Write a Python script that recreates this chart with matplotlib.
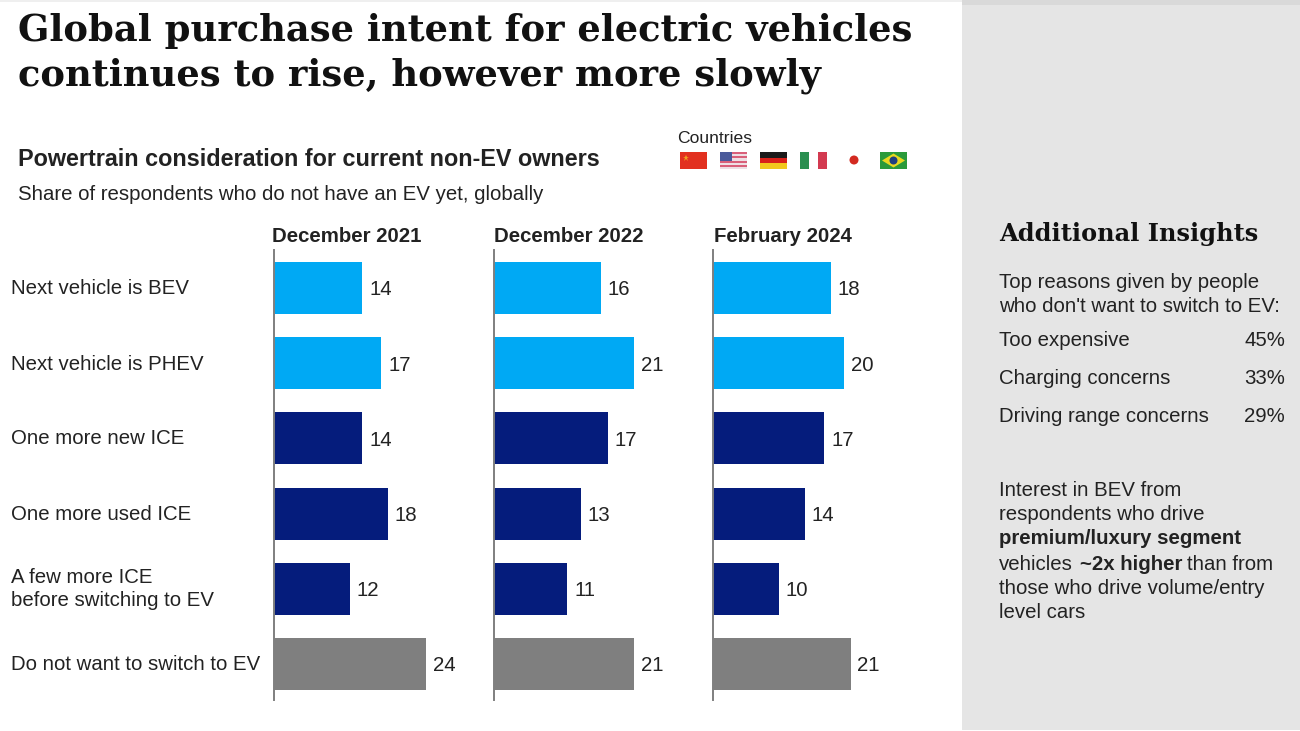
import matplotlib
matplotlib.use('Agg')
from matplotlib import pyplot as plt
from matplotlib.patches import Circle, Polygon, Rectangle
import numpy as np

categories = ['Next vehicle is BEV', 'Next vehicle is PHEV', 'One more new ICE',
              'One more used ICE', 'A few more ICE\nbefore switching to EV',
              'Do not want to switch to EV']
periods = ['December 2021', 'December 2022', 'February 2024']
values_2021 = [14, 17, 14, 18, 12, 24]
values_2022 = [16, 21, 17, 13, 11, 21]
values_2024 = [18, 20, 17, 14, 10, 21]

reasons = ['Too expensive', 'Charging concerns', 'Driving range concerns']
reason_shares = ['45%', '33%', '29%']

LIGHT_BLUE = '#00a9f4'
DARK_BLUE = '#051c7c'
GREY = '#7f7f7f'
bar_colors = [LIGHT_BLUE, LIGHT_BLUE, DARK_BLUE, DARK_BLUE, DARK_BLUE, GREY]

W, H = 1300, 731
SANS = 'Liberation Sans'
SERIF = 'DejaVu Serif'
TEXT = '#222222'
BODY = 14.7

plt.rcParams['font.family'] = SANS

fig = plt.figure(figsize=(W / 100, H / 100), dpi=100, facecolor='white')

# overlay in pixel coordinates for text and flags
bg = fig.add_axes([0, 0, 1, 1])
bg.set_xlim(0, W)
bg.set_ylim(H, 0)
bg.axis('off')


def put(x, y, s, size=BODY, **kw):
    kw.setdefault('color', TEXT)
    kw.setdefault('va', 'center_baseline')
    return bg.text(x, y - 1, s, fontsize=size, **kw)


# sidebar
bg.add_patch(Rectangle((962, 0), 338, 730, color='#e5e5e5', lw=0))
bg.add_patch(Rectangle((962, 0), 338, 5, color='#d9d9d9', lw=0))
bg.add_patch(Rectangle((0, 0), 962, 2, color='#efefef', lw=0))

# title
put(18, 28, 'Global purchase intent for electric vehicles', size=26.6, family=SERIF,
    weight='bold', color='#111111')
put(18, 73, 'continues to rise, however more slowly', size=26.6, family=SERIF,
    weight='bold', color='#111111')

# subtitle
put(18, 158, 'Powertrain consideration for current non-EV owners', size=16.85, weight='bold')
put(18, 193, 'Share of respondents who do not have an EV yet, globally')
put(677, 138, 'Countries', size=12.6)


def flag_box(x, stripes, horizontal=True):
    y, w, h = 152, 27, 17
    n = len(stripes)
    for i, c in enumerate(stripes):
        if horizontal:
            bg.add_patch(Rectangle((x, y + h * i / n), w, h / n, color=c, lw=0))
        else:
            bg.add_patch(Rectangle((x + w * i / n, y), w / n, h, color=c, lw=0))


# china
flag_box(680, ['#e2301f'])
bg.plot([686], [158], marker='*', ms=5, color='#f0a020', mew=0)
# usa
flag_box(720, ['#d9607a', '#eedfe4'] * 4)
bg.add_patch(Rectangle((720, 152), 12, 9, color='#4a5a9a', lw=0))
# germany
flag_box(760, ['#1a1a1a', '#d8201a', '#f2c81e'])
# italy
flag_box(800, ['#2a8f50', '#ffffff', '#d33a50'], horizontal=False)
# japan
bg.add_patch(Circle((854, 160), 4.5, color='#d32a20', lw=0))
# brazil
flag_box(880, ['#2a9a3a'])
bg.add_patch(Polygon([(882, 160.5), (893.5, 153.5), (905, 160.5), (893.5, 167.5)],
                     color='#e8d820', lw=0))
bg.add_patch(Circle((893.5, 160.5), 4, color='#1f3f80', lw=0))

# row labels
row_centers = [288, 363, 438, 513, 589, 664]
for label, yc in zip(categories, row_centers):
    if '\n' in label:
        put(11, yc + 1, label, va='center', linespacing=1.27)
    else:
        put(11, yc, label)

# bar panels: left edge px, px per unit
panels = [(274, 6.32, values_2021), (494, 6.68, values_2022), (713, 6.55, values_2024)]
period_x = [272, 494, 714]
for (left, scale, vals), period, px in zip(panels, periods, period_x):
    width = 200
    ax = fig.add_axes([left / W, 1 - 700 / H, width / W, 450 / H])
    ax.patch.set_alpha(0)
    y = np.arange(len(vals))
    bars = ax.barh(y, vals, height=52 / 75.2, color=bar_colors, linewidth=0)
    ax.set_xlim(0, width / scale)
    ax.set_ylim(5.48, -0.505)
    labels = ax.bar_label(bars, labels=[str(v) for v in vals], padding=5, fontsize=BODY,
                          color=TEXT)
    for t in labels:
        t.set_va('center_baseline')
    for s in ['top', 'right', 'bottom']:
        ax.spines[s].set_visible(False)
    ax.spines['left'].set_color('#7f7f7f')
    ax.spines['left'].set_linewidth(1.4)
    ax.set_xticks([])
    ax.set_yticks([])
    put(px, 235, period, weight='bold')

# sidebar text
put(999, 232, 'Additional Insights', size=17.3, family=SERIF, weight='bold', color='#111111')
put(999, 281, 'Top reasons given by people')
put(999, 305, "who don't want to switch to EV:")
for reason, share, yc in zip(reasons, reason_shares, [340, 377, 415]):
    put(999, yc, reason)
    put(1285, yc, share, ha='right')

put(999, 489, 'Interest in BEV from')
put(999, 513, 'respondents who drive')
put(999, 538, 'premium/luxury segment', weight='bold')
put(999, 563, 'vehicles')
put(1080, 563, '~2x higher', weight='bold')
put(1187, 563, 'than from')
put(999, 587, 'those who drive volume/entry')
put(999, 611, 'level cars')

fig.savefig('out.png', dpi=100)
